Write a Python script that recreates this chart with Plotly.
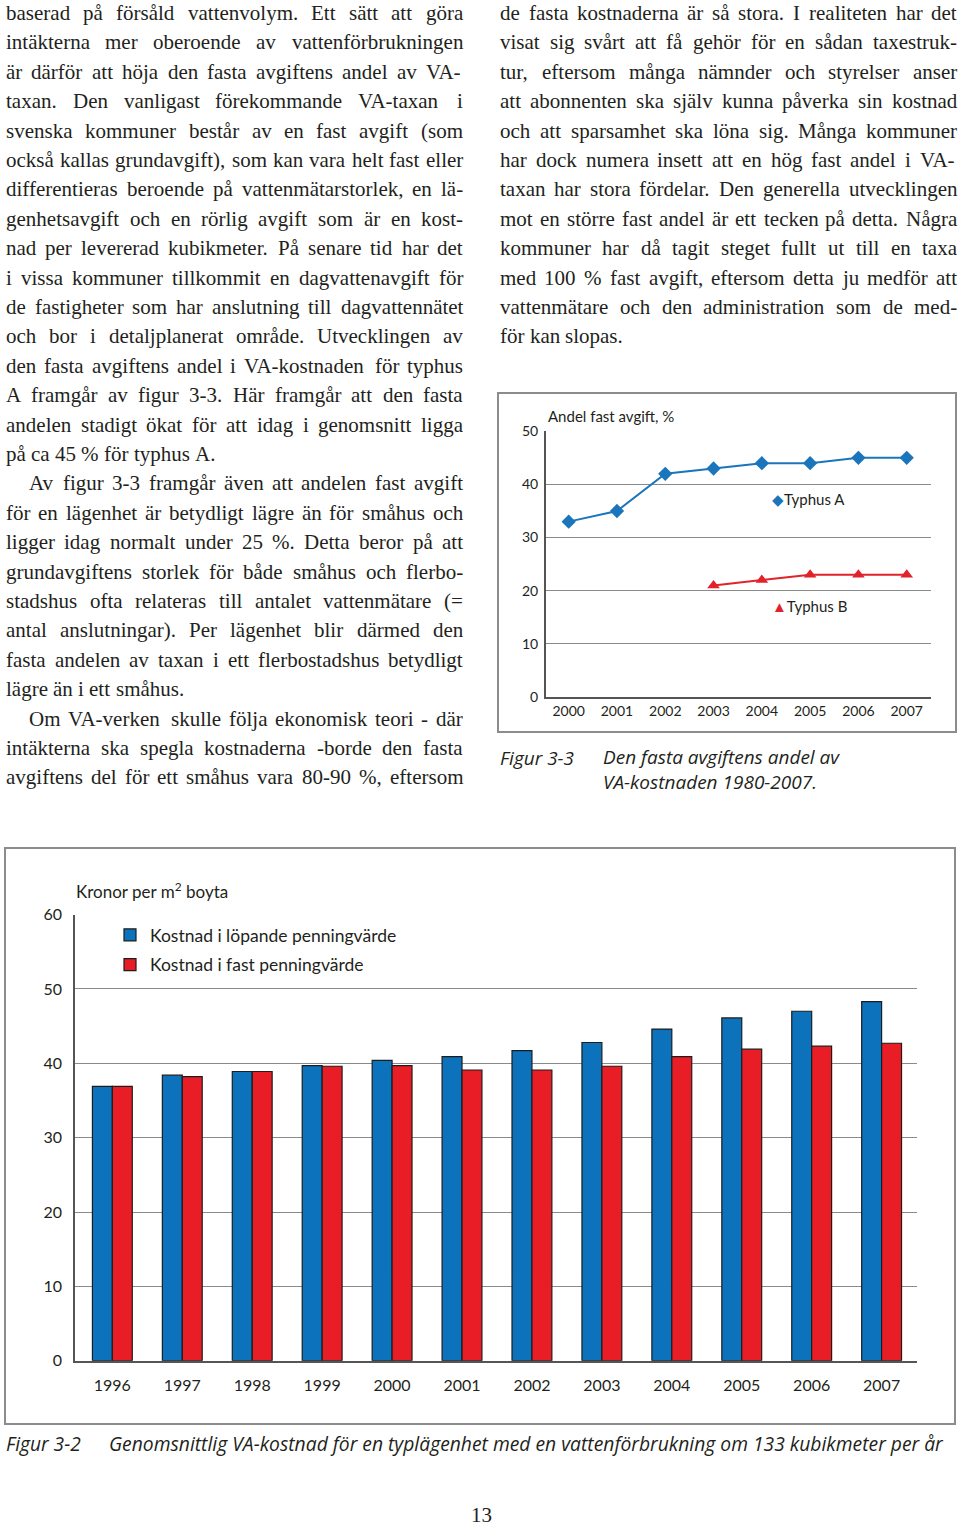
import plotly.graph_objects as go

# ---------------- data ----------------
cost_years = [1996, 1997, 1998, 1999, 2000, 2001, 2002, 2003, 2004, 2005, 2006, 2007]
cost_current = [36.9, 38.4, 38.9, 39.7, 40.4, 40.9, 41.7, 42.8, 44.6, 46.1, 47.0, 48.3]
cost_fixed = [36.9, 38.2, 38.9, 39.6, 39.7, 39.1, 39.1, 39.6, 40.9, 41.9, 42.3, 42.7]

share_years_a = [2000, 2001, 2002, 2003, 2004, 2005, 2006, 2007]
typhus_a = [33, 35, 42, 43, 44, 44, 45, 45]
share_years_b = [2003, 2004, 2005, 2006, 2007]
typhus_b = [21, 22, 23, 23, 23]

cost_ticks = [str(y) for y in cost_years]
share_ticks = [str(y) for y in share_years_a]

# ---------------- body text ----------------
left_lines = [
    "baserad på försåld vattenvolym. Ett sätt att göra",
    "intäkterna mer oberoende av vattenförbrukningen",
    "är därför att höja den fasta avgiftens andel av VA-",
    "taxan. Den vanligast förekommande VA-taxan i",
    "svenska kommuner består av en fast avgift (som",
    "också kallas grundavgift), som kan vara helt fast eller",
    "differentieras beroende på vattenmätarstorlek, en lä-",
    "genhetsavgift och en rörlig avgift som är en kost-",
    "nad per levererad kubikmeter. På senare tid har det",
    "i vissa kommuner tillkommit en dagvattenavgift för",
    "de fastigheter som har anslutning till dagvattennätet",
    "och bor i detaljplanerat område. Utvecklingen av",
    "den fasta avgiftens andel i VA-kostnaden för typhus",
    "A framgår av figur 3-3. Här framgår att den fasta",
    "andelen stadigt ökat för att idag i genomsnitt ligga",
    "på ca 45 % för typhus A.",
    "Av figur 3-3 framgår även att andelen fast avgift",
    "för en lägenhet är betydligt lägre än för småhus och",
    "ligger idag normalt under 25 %. Detta beror på att",
    "grundavgiftens storlek för både småhus och flerbo-",
    "stadshus ofta relateras till antalet vattenmätare (=",
    "antal anslutningar). Per lägenhet blir därmed den",
    "fasta andelen av taxan i ett flerbostadshus betydligt",
    "lägre än i ett småhus.",
    "Om VA-verken skulle följa ekonomisk teori - där",
    "intäkterna ska spegla kostnaderna -borde den fasta",
    "avgiftens del för ett småhus vara 80-90 %, eftersom",
]
left_last = {15, 23}
left_indent = {16, 24}

right_lines = [
    "de fasta kostnaderna är så stora. I realiteten har det",
    "visat sig svårt att få gehör för en sådan taxestruk-",
    "tur, eftersom många nämnder och styrelser anser",
    "att abonnenten ska själv kunna påverka sin kostnad",
    "och att sparsamhet ska löna sig. Många kommuner",
    "har dock numera insett att en hög fast andel i VA-",
    "taxan har stora fördelar. Den generella utvecklingen",
    "mot en större fast andel är ett tecken på detta. Några",
    "kommuner har då tagit steget fullt ut till en taxa",
    "med 100 % fast avgift, eftersom detta ju medför att",
    "vattenmätare och den administration som de med-",
    "för kan slopas.",
]
right_last = {11}
right_indent = set()

W = 960
H = 1528
TXT = "#231f20"
SERIF = "Liberation Serif"
SANS = "Lato"
CAP = "Open Sans"
FS = 21

cw = {' ': 250, 'a': 444, 'b': 500, 'c': 444, 'd': 500, 'e': 444, 'f': 333, 'g': 500,
      'h': 500, 'i': 278, 'j': 278, 'k': 500, 'l': 278, 'm': 778, 'n': 500, 'o': 500,
      'p': 500, 'q': 500, 'r': 333, 's': 389, 't': 278, 'u': 500, 'v': 500, 'w': 722,
      'x': 500, 'y': 500, 'z': 444, 'å': 444, 'ä': 444, 'ö': 500,
      'A': 722, 'B': 667, 'C': 667, 'D': 722, 'E': 611, 'F': 556, 'G': 722, 'H': 722,
      'I': 333, 'J': 389, 'K': 722, 'L': 611, 'M': 889, 'N': 722, 'O': 722, 'P': 556,
      'Q': 722, 'R': 667, 'S': 556, 'T': 611, 'U': 722, 'V': 722, 'W': 944, 'X': 722,
      'Y': 722, 'Z': 611, 'Å': 722, 'Ä': 722, 'Ö': 722,
      '.': 250, ',': 250, '-': 333, '(': 333, ')': 333, '%': 833, '=': 564}


def wwidth(word):
    return sum(cw.get(c, 500) for c in word) / 1000.0 * FS


annotations = []


def add_text(x, y, text, size, family=SERIF, anchor="left", italic=False, color=TXT, yanchor="middle"):
    annotations.append(dict(
        x=x / W, y=1 - y / H, xref="paper", yref="paper", text=text,
        showarrow=False, xanchor=anchor, yanchor=yanchor, align="left",
        font=dict(family=family, size=size, color=color,
                  style="italic" if italic else "normal"),
        borderpad=0,
    ))


def set_column(lines, x0, x1, last, indent, y0=13.0, step=29.4):
    for i, line in enumerate(lines):
        y = y0 + i * step
        start = x0 + (23 if i in indent else 0)
        words = line.split(" ")
        widths = [wwidth(w) for w in words]
        if i in last or len(words) == 1:
            gap = 0.25 * FS
        else:
            gap = (x1 - start - sum(widths)) / (len(words) - 1)
            gap = max(gap, 0.15 * FS)
        x = start
        for w, wd in zip(words, widths):
            add_text(x, y, w, FS)
            x += wd + gap


set_column(left_lines, 5, 462, left_last, left_indent)
set_column(right_lines, 499, 956, right_last, right_indent)

# ---------------- figure ----------------
fig = go.Figure()

BLUE_BAR = "#0b72bb"
RED_BAR = "#e91d25"
BLUE_LINE = "#1b75bb"
RED_LINE = "#e2222a"

fig.add_trace(go.Bar(
    x=cost_years, y=cost_current, name="Kostnad i löpande penningvärde",
    marker=dict(color=BLUE_BAR, line=dict(color="#1d1d1d", width=1.2)),
    xaxis="x", yaxis="y", legendgroup="a",
))
fig.add_trace(go.Bar(
    x=cost_years, y=cost_fixed, name="Kostnad i fast penningvärde",
    marker=dict(color=RED_BAR, line=dict(color="#1d1d1d", width=1.2)),
    xaxis="x", yaxis="y", legendgroup="b",
))

fig.add_trace(go.Scatter(
    x=share_years_a, y=typhus_a, mode="lines+markers", name="Typhus A",
    line=dict(color=BLUE_LINE, width=2),
    marker=dict(symbol="diamond", size=11, color=BLUE_LINE),
    xaxis="x2", yaxis="y2", showlegend=False,
))
fig.add_trace(go.Scatter(
    x=share_years_b, y=typhus_b, mode="lines+markers", name="Typhus B",
    line=dict(color=RED_LINE, width=2),
    marker=dict(symbol="triangle-up", size=11, color=RED_LINE),
    xaxis="x2", yaxis="y2", showlegend=False,
))

# chart labels
add_text(547, 416, "Andel fast avgift, %", 15, family=SANS)
add_text(771, 499, "<span style='color:%s'>◆</span>Typhus A" % BLUE_LINE, 15, family=SANS)
add_text(771, 606, "<span style='color:%s'>▲</span>Typhus B" % RED_LINE, 15, family=SANS)
add_text(75, 890, "Kronor per m<sup>2</sup> boyta", 17, family=SANS)

# captions
add_text(499, 758, "Figur 3-3", 19, family=CAP, italic=True)
add_text(602, 769.5, "Den fasta avgiftens andel av<br>VA-kostnaden 1980-2007.", 19, family=CAP, italic=True)
add_text(5, 1443, "Figur 3-2", 19.2, family=CAP, italic=True)
add_text(108, 1443, "Genomsnittlig VA-kostnad för en typlägenhet med en vattenförbrukning om 133 kubikmeter per år",
         19.3, family=CAP, italic=True)
add_text(481, 1527.5, "13", 21, anchor="center", yanchor="bottom")

shapes = [
    dict(type="rect", xref="paper", yref="paper",
         x0=5 / W, x1=955 / W, y0=1 - 1424 / H, y1=1 - 848 / H,
         line=dict(color="#8c8c8c", width=2)),
    dict(type="rect", xref="paper", yref="paper",
         x0=498 / W, x1=956 / W, y0=1 - 732 / H, y1=1 - 393 / H,
         line=dict(color="#8c8c8c", width=2)),
]

axis_font_big = dict(family=SANS, size=16, color="#231f20")
axis_font_small = dict(family=SANS, size=14, color="#231f20")

fig.update_layout(
    width=W, height=H,
    margin=dict(l=0, r=0, t=0, b=0, pad=0, autoexpand=False),
    paper_bgcolor="white", plot_bgcolor="white",
    barmode="group", bargap=0.43, bargroupgap=0,
    showlegend=True,
    legend=dict(x=110 / W, y=1 - 917 / H, xanchor="left", yanchor="top",
                font=dict(family=SANS, size=17.5, color="#231f20"),
                bgcolor="rgba(0,0,0,0)", tracegroupgap=4, traceorder="grouped"),
    xaxis=dict(domain=[75 / W, 917 / W], range=[1995.466, 2007.506],
               tickvals=cost_years, ticktext=cost_ticks, showgrid=False,
               showline=True, linecolor="#555", linewidth=1.5, ticks="",
               tickfont=axis_font_big, ticklabelstandoff=9, anchor="y", zeroline=False),
    yaxis=dict(domain=[1 - 1360.7 / H, 1 - 914.6 / H], range=[0, 60], dtick=10,
               showgrid=True, gridcolor="#8a8a8a", gridwidth=1,
               showline=True, linecolor="#555", linewidth=1.5, ticks="",
               tickfont=axis_font_big, ticklabelstandoff=8, zeroline=False, anchor="x"),
    xaxis2=dict(domain=[545.7 / W, 931 / W], range=[1999.524, 2007.503],
                tickvals=share_years_a, ticktext=share_ticks, showgrid=False,
                showline=True, linecolor="#555", linewidth=1.5, ticks="",
                tickfont=axis_font_small, ticklabelstandoff=0, anchor="y2", zeroline=False),
    yaxis2=dict(domain=[1 - 697 / H, 1 - 431.3 / H], range=[0, 50], dtick=10,
                showgrid=True, gridcolor="#8a8a8a", gridwidth=1,
                showline=True, linecolor="#555", linewidth=1.5, ticks="",
                tickfont=axis_font_small, ticklabelstandoff=3, zeroline=False, anchor="x2"),
    annotations=annotations,
    shapes=shapes,
)

PAGE_CSS = (
    "document.documentElement.style.margin='0';"
    "document.documentElement.style.padding='0';"
    "document.documentElement.style.overflow='hidden';"
    "document.body.style.margin='0';"
    "document.body.style.padding='0';"
    "document.body.style.overflow='hidden';"
)

fig.write_html("out.html", config={"displayModeBar": False}, post_script=PAGE_CSS)
